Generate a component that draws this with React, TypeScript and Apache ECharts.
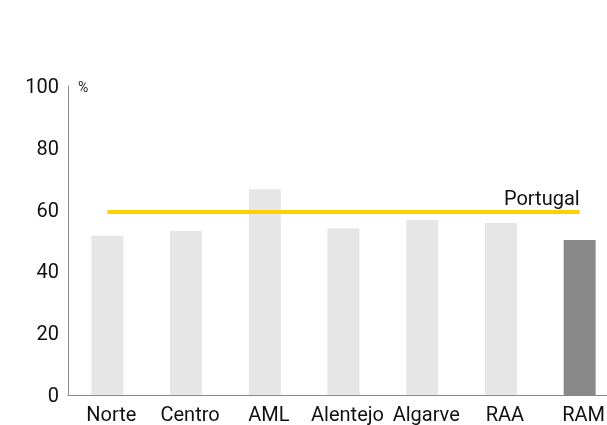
import React, { useEffect, useRef } from "react";
import * as echarts from "echarts";

const categories = ["Norte", "Centro", "AML", "Alentejo", "Algarve", "RAA", "RAM"];
const values = [51.5, 53.1, 66.6, 54.0, 56.6, 55.7, 50.2];
const highlight = "RAM";
const portugalValue = 59.2;
const portugalLabel = "Portugal";
const unitLabel = "%";

export default function App() {
  const ref = useRef<HTMLDivElement>(null);
  useEffect(() => {
    if (!ref.current) return;
    const chart = echarts.init(ref.current, undefined, { renderer: "svg" });
    chart.setOption({
      animation: false,
      textStyle: { fontFamily: "Roboto" },
      grid: {
        left: 68,
        top: 86,
        width: 551,
        bottom: 30,
        containLabel: false,
        outerBoundsMode: "none",
      },
      graphic: [
        {
          type: "text",
          left: 78,
          top: 80,
          style: { text: unitLabel, fontSize: 14, fill: "#222", fontFamily: "Roboto" },
        },
      ],
      xAxis: {
        type: "category",
        data: categories,
        axisLine: { lineStyle: { color: "#8a8a8a", width: 1 } },
        axisTick: { show: false },
        axisLabel: {
          fontSize: 20,
          lineHeight: 20,
          color: "#111",
          margin: 9,
          interval: 0,
          padding: [0, 0, 0, 8],
        },
      },
      yAxis: {
        type: "value",
        min: 0,
        max: 100,
        interval: 20,
        axisLine: { show: true, lineStyle: { color: "#8a8a8a", width: 1 } },
        axisTick: { show: false },
        splitLine: { show: false },
        axisLabel: { fontSize: 20, color: "#111", margin: 9 },
      },
      series: [
        {
          type: "bar",
          barWidth: 32,
          data: categories.map((c, i) => ({
            value: values[i],
            itemStyle: { color: c === highlight ? "#888888" : "#E6E6E6" },
          })),
          markLine: {
            silent: true,
            symbol: "none",
            lineStyle: { color: "#FFD100", width: 4, type: "solid" },
            label: {
              show: true,
              position: "insideEndTop",
              formatter: portugalLabel,
              fontSize: 20,
              color: "#111",
              fontFamily: "Roboto",
              distance: 4,
              offset: [4, 0],
            },
            data: [
              [
                { coord: [categories[0], portugalValue] },
                { coord: [categories[categories.length - 1], portugalValue] },
              ],
            ],
          },
        },
      ],
    });
    return () => chart.dispose();
  }, []);
  return (
    <div
      ref={ref}
      style={{ position: "fixed", left: 0, top: 0, width: 607, height: 425 }}
    />
  );
}
